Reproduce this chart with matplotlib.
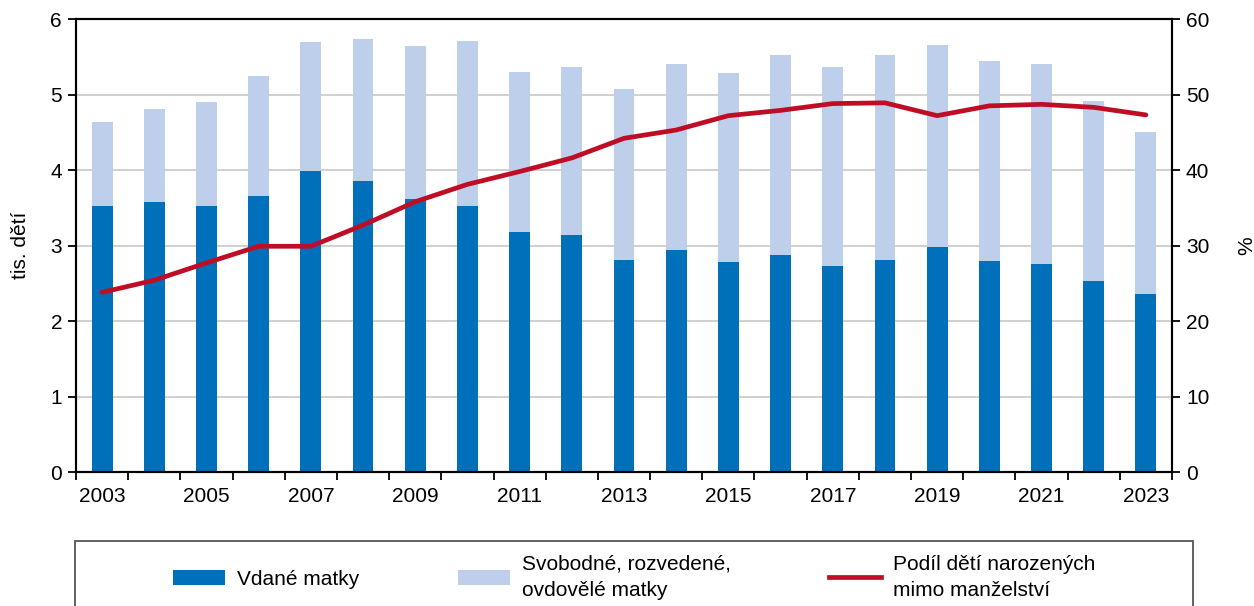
import numpy as np
import matplotlib
matplotlib.use('Agg')
import matplotlib.pyplot as plt
from matplotlib.patches import Rectangle, Patch
from matplotlib.lines import Line2D

plt.rcParams['font.family'] = ['Liberation Sans', 'DejaVu Sans']

years = list(range(2003, 2024))
vdane = [3.52, 3.58, 3.53, 3.66, 3.99, 3.86, 3.62, 3.53, 3.18, 3.14, 2.81, 2.94,
         2.78, 2.87, 2.73, 2.81, 2.98, 2.79, 2.76, 2.53, 2.36]
celkem = [4.64, 4.81, 4.90, 5.24, 5.70, 5.74, 5.64, 5.71, 5.30, 5.37, 5.07, 5.40,
          5.29, 5.52, 5.36, 5.52, 5.66, 5.44, 5.41, 4.92, 4.51]
svobodne = [c - v for c, v in zip(celkem, vdane)]
podil = [23.8, 25.4, 27.7, 29.9, 29.9, 32.7, 35.8, 38.1, 39.8, 41.6, 44.2, 45.3,
         47.2, 47.9, 48.8, 48.9, 47.2, 48.5, 48.7, 48.3, 47.3]

c_dark = '#0070BA'
c_light = '#BDCFEB'
c_red = '#C00D26'
fs = 15

fig = plt.figure(figsize=(12.54, 6.06), dpi=100)
ax = fig.add_axes([0.0606, 0.2211, 0.874, 0.7475])
x = np.arange(len(years))

ax.bar(x, vdane, width=0.4, color=c_dark, zorder=2)
ax.bar(x, svobodne, width=0.4, bottom=vdane, color=c_light, zorder=2)
ax.set_xlim(-0.5, len(years) - 0.5)
ax.set_ylim(0, 6)
ax.set_yticks(range(0, 7))
ax.yaxis.grid(True, color='#C8C8C8', linewidth=1.2, zorder=0)
ax.set_axisbelow(True)

# tick marks between categories, labels under every other bar
ax.set_xticks(np.arange(-0.5, len(years), 1.0))
ax.set_xticklabels([])
ax.set_xticks(x[::2], minor=True)
ax.set_xticklabels([str(y) for y in years[::2]], minor=True)
ax.tick_params(axis='x', which='major', length=6, width=1.3, direction='out')
ax.tick_params(axis='x', which='minor', length=0, pad=11, labelsize=fs)
ax.tick_params(axis='y', length=6, width=1.3, labelsize=fs, pad=4)
ax.set_ylabel('tis. dětí', fontsize=fs, labelpad=15)

ax2 = ax.twinx()
ax2.plot(x, podil, color=c_red, linewidth=3.4, solid_capstyle='round', zorder=3)
ax2.set_ylim(0, 60)
ax2.set_yticks(range(0, 61, 10))
ax2.tick_params(axis='y', length=6, width=1.3, labelsize=fs, pad=4)
ax2.set_ylabel('%', fontsize=fs, labelpad=20)

for a in (ax, ax2):
    for s in a.spines.values():
        s.set_linewidth(1.5)
        s.set_color('black')

# legend box (cut off at the bottom like the original)
fig.patches.append(Rectangle((0.0598, -0.05), 0.8915, 0.1573, transform=fig.transFigure,
                             fill=False, edgecolor='#555555', linewidth=1.3))
handles = [Patch(facecolor=c_dark), Patch(facecolor=c_light),
           Line2D([], [], color=c_red, linewidth=3.4)]
labels = ['Vdané matky', 'Svobodné, rozvedené,\novdovělé matky',
          'Podíl dětí narozených\nmimo manželství']
leg = fig.legend(handles, labels, loc='upper center', bbox_to_anchor=(0.5057, 0.112),
                 ncol=3, frameon=False, fontsize=fs, handlelength=2.5, handleheight=0.7,
                 handletextpad=0.58, columnspacing=4.7, borderpad=0.3)
for t in leg.get_texts():
    t.set_linespacing(1.45)

fig.savefig('out.png', dpi=100)
